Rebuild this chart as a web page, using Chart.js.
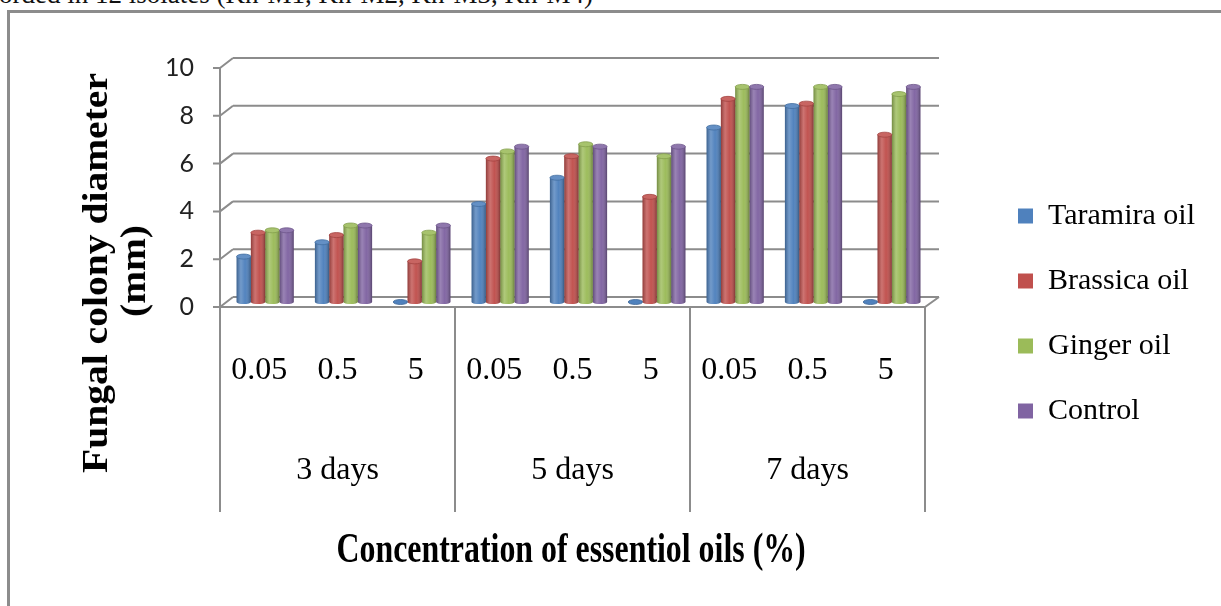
<!DOCTYPE html>
<html>
<head>
<meta charset="utf-8">
<script src="https://cdn.jsdelivr.net/npm/chart.js@4.4.1/dist/chart.umd.min.js"></script>
<style>
html,body{margin:0;padding:0;background:#fff;overflow:hidden;width:1221px;height:606px;position:relative;}
#frame{position:absolute;left:7px;top:10px;width:1400px;height:800px;border-left:3px solid #8c8c8c;border-top:3px solid #8c8c8c;}
#toptext{position:absolute;left:-1px;top:-19px;font-size:27px;line-height:27px;font-family:'Liberation Serif',serif;color:#111;white-space:nowrap;}
#c{position:absolute;left:0;top:0;}
.lbl{position:absolute;left:0;top:0;white-space:nowrap;font-family:'Liberation Serif',serif;font-weight:bold;color:#000;line-height:1;transform-origin:50% 50%;}
</style>
</head>
<body>
<div id="frame"></div>
<div id="toptext">orded in 12 isolates (Kh-M1, Kh-M2, Kh-M3, Kh-M4)</div>
<canvas id="c" width="1221" height="606"></canvas>
<div class="lbl" id="yt1" style="font-size:36px">Fungal colony diameter</div>
<div class="lbl" id="yt2" style="font-size:36px">(mm)</div>
<div class="lbl" id="xt" style="font-size:42px">Concentration of essentiol oils (%)</div>
<script>
// ---- data ----
const concentrations = ['0.05', '0.5', '5'];
const days = ['3 days', '5 days', '7 days'];
const seriesNames = ['Taramira oil', 'Brassica oil', 'Ginger oil', 'Control'];
const taramira = [1.9, 2.5, 0, 4.1, 5.2, 0, 7.3, 8.2, 0];
const brassica = [2.9, 2.8, 1.7, 6.0, 6.1, 4.4, 8.5, 8.3, 7.0];
const ginger   = [3.0, 3.2, 2.9, 6.3, 6.6, 6.1, 9.0, 9.0, 8.7];
const control  = [3.0, 3.2, 3.2, 6.5, 6.5, 6.5, 9.0, 9.0, 9.0];
const yTickValues = [0, 2, 4, 6, 8, 10];
const colors = ['#4F81BD', '#C0504D', '#9BBB59', '#8064A2'];

const labels = [];
days.forEach(() => concentrations.forEach(c => labels.push(c)));
const seriesValues = [taramira, brassica, ginger, control];

// ---- helpers ----
function shade(hex, amt) {
  const n = parseInt(hex.slice(1), 16);
  let r = n >> 16, g = (n >> 8) & 255, b = n & 255;
  const f = v => Math.max(0, Math.min(255, Math.round(amt >= 0 ? v + (255 - v) * amt : v * (1 + amt))));
  return `rgb(${f(r)},${f(g)},${f(b)})`;
}

const GRID = '#8c8c8c';
const PAD_LEFT = -260;

// 3D-like frame: back wall gridlines, floor, front axis, category separators and group labels
const frame3d = {
  id: 'frame3d',
  beforeDatasetsDraw(chart) {
    const {ctx, chartArea: ca, scales: {x, y}} = chart;
    const fx = ca.left - 6, bx = ca.left + 7, bxr = ca.right + 8, frx = ca.right - 6;
    const y0 = y.getPixelForValue(0), yMax = y.getPixelForValue(y.max);
    ctx.save();
    ctx.strokeStyle = GRID;
    ctx.lineWidth = 2;
    ctx.beginPath();
    y.ticks.forEach(t => {
      const yy = y.getPixelForValue(t.value);
      ctx.moveTo(bx, yy - 5); ctx.lineTo(bxr, yy - 5);
      ctx.moveTo(fx, yy + 5); ctx.lineTo(bx, yy - 5);
      ctx.moveTo(fx - 7, yy + 5); ctx.lineTo(fx, yy + 5);
    });
    ctx.moveTo(fx, yMax + 5); ctx.lineTo(fx, y0 + 5);
    ctx.moveTo(fx - 7, y0 + 5); ctx.lineTo(frx, y0 + 5);
    ctx.lineTo(bxr, y0 - 5);
    ctx.stroke();
    ctx.restore();
  },
  afterDraw(chart) {
    const {ctx, chartArea: ca, scales: {x, y}} = chart;
    const y0 = y.getPixelForValue(0);
    ctx.save();
    ctx.strokeStyle = GRID;
    ctx.lineWidth = 2;
    ctx.beginPath();
    const n = concentrations.length;
    for (let k = 0; k <= days.length; k++) {
      const xx = x.getPixelForValue(k * n - 0.5) - 6;
      ctx.moveTo(xx, y0 + 5); ctx.lineTo(xx, y0 + 210);
    }
    ctx.stroke();
    ctx.fillStyle = '#000';
    ctx.font = "32px 'Liberation Serif', serif";
    ctx.textAlign = 'center';
    ctx.textBaseline = 'middle';
    days.forEach((d, k) => {
      const xx = x.getPixelForValue(k * n + (n - 1) / 2) - 6;
      ctx.fillText(d, xx, y0 + 169);
    });
    ctx.restore();
  }
};

// cylinder shading over the library's own bar elements
const cylinders = {
  id: 'cylinders',
  afterDatasetsDraw(chart) {
    const ctx = chart.ctx;
    chart.data.datasets.forEach((ds, di) => {
      const meta = chart.getDatasetMeta(di);
      if (meta.hidden) return;
      const col = ds.backgroundColor;
      meta.data.forEach(bar => {
        const {x, y, base, width} = bar.getProps(['x', 'y', 'base', 'width'], true);
        const l = x - width / 2, r = x + width / 2, h = base - y;
        ctx.save();
        if (h > 0.5) {
          ctx.beginPath();
          ctx.ellipse(x, base, width / 2, 2, 0, 0, Math.PI);
          ctx.fillStyle = col; ctx.fill();
          const g = ctx.createLinearGradient(l, 0, r, 0);
          g.addColorStop(0, 'rgba(0,0,0,0.25)');
          g.addColorStop(0.3, 'rgba(255,255,255,0.2)');
          g.addColorStop(0.6, 'rgba(255,255,255,0.02)');
          g.addColorStop(1, 'rgba(0,0,0,0.32)');
          ctx.fillStyle = g;
          ctx.fillRect(l, y, width, h);
          ctx.beginPath();
          ctx.ellipse(x, base, width / 2, 2, 0, 0, Math.PI);
          ctx.fill();
          ctx.beginPath();
          ctx.ellipse(x, y, width / 2, 2.5, 0, 0, Math.PI * 2);
          ctx.fillStyle = shade(col, 0.12); ctx.fill();
          ctx.strokeStyle = shade(col, -0.15); ctx.lineWidth = 0.8; ctx.stroke();
        } else {
          ctx.beginPath();
          ctx.ellipse(x, base, width / 2, 2.5, 0, 0, Math.PI * 2);
          ctx.fillStyle = col; ctx.fill();
          ctx.strokeStyle = shade(col, -0.2); ctx.lineWidth = 0.8; ctx.stroke();
        }
        ctx.restore();
      });
    });
  }
};

const chart = new Chart(document.getElementById('c'), {
  type: 'bar',
  data: {
    labels: labels,
    datasets: seriesNames.map((name, i) => ({
      label: name,
      data: seriesValues[i],
      backgroundColor: colors[i],
      borderWidth: 0,
      categoryPercentage: 0.73,
      barPercentage: 1.0
    }))
  },
  options: {
    responsive: false,
    animation: false,
    devicePixelRatio: 1,
    layout: {padding: {top: 63, bottom: 42, left: PAD_LEFT, right: 16}},
    plugins: {
      tooltip: {enabled: false},
      title: {display: false},
      legend: {
        position: 'right',
        align: 'center',
        labels: {
          font: {family: "'Liberation Serif', serif", size: 30},
          color: '#000',
          boxWidth: 15,
          boxHeight: 15,
          padding: 35
        }
      }
    },
    scales: {
      x: {
        type: 'category',
        offset: true,
        grid: {display: false, drawTicks: false},
        border: {display: false},
        ticks: {
          font: {family: "'Liberation Serif', serif", size: 32},
          color: '#000',
          padding: 49,
          labelOffset: -6,
          autoSkip: false,
          maxRotation: 0,
          minRotation: 0
        },
        afterFit: s => { s.height = 262; }
      },
      y: {
        type: 'linear',
        position: 'left',
        min: 0,
        max: 10,
        grid: {display: false, drawTicks: false},
        border: {display: false},
        ticks: {
          font: {family: 'Lato, sans-serif', size: 25},
          color: '#222',
          padding: 32,
          labelOffset: 5
        },
        afterBuildTicks: s => { s.ticks = yTickValues.map(v => ({value: v})); },
        afterFit: s => { s.width = 226 - PAD_LEFT; }
      },
      pad: {
        type: 'linear',
        position: 'right',
        display: true,
        grid: {display: false, drawTicks: false},
        border: {display: false},
        ticks: {display: false},
        afterFit: s => { s.width = 52; }
      }
    }
  },
  plugins: [frame3d, cylinders]
});

// axis titles (HTML text), stretched to the reference lengths
function placeLabel(id, cx, cy, length, rotate) {
  const el = document.getElementById(id);
  const w = el.offsetWidth, h = el.offsetHeight;
  el.style.left = (cx - w / 2) + 'px';
  el.style.top = (cy - h / 2) + 'px';
  const k = length / w;
  el.style.transform = (rotate ? 'rotate(-90deg) ' : '') + `scaleX(${k})`;
}
placeLabel('yt1', 95, 273, 400, true);
placeLabel('yt2', 133, 271, 92, true);
placeLabel('xt', 571, 548, 469, false);
</script>
</body>
</html>
